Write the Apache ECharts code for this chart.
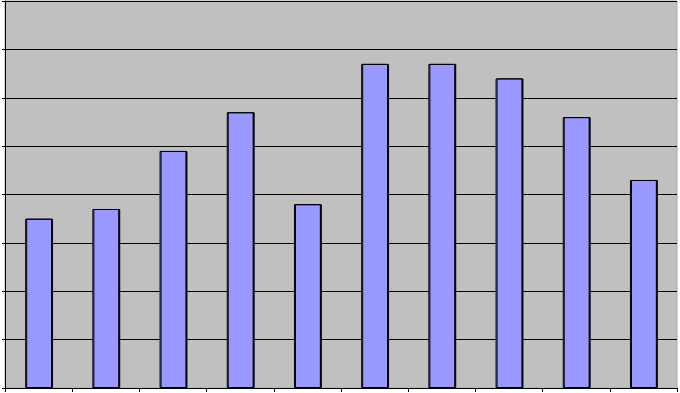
<!DOCTYPE html>
<html>
<head>
<meta charset="utf-8">
<script src="https://cdn.jsdelivr.net/npm/echarts@6/dist/echarts.min.js"></script>
<style>html,body{margin:0;padding:0;background:#fff;}#c{width:680px;height:393px;}</style>
</head>
<body>
<div id="c"></div>
<script>
const categories = ['1', '2', '3', '4', '5', '6', '7', '8', '9', '10'];
const values = [3.5, 3.7, 4.9, 5.7, 3.8, 6.7, 6.7, 6.4, 5.6, 4.3];
const yMin = 0, yMax = 8, yStep = 1;

const chart = echarts.init(document.getElementById('c'), null, {renderer: 'canvas'});
chart.setOption({
  animation: false,
  backgroundColor: '#ffffff',
  grid: {
    left: 5, right: 3, top: 1, bottom: 5,
    show: true, backgroundColor: '#c0c0c0', borderColor: '#a8a8a8', borderWidth: 1
  },
  xAxis: {
    type: 'category',
    data: categories,
    axisLine: {lineStyle: {color: '#000', width: 1}},
    axisTick: {show: true, length: 4, lineStyle: {color: '#000'}},
    axisLabel: {show: false},
    splitLine: {show: false}
  },
  yAxis: {
    type: 'value',
    min: yMin, max: yMax, interval: yStep,
    axisLine: {show: true, lineStyle: {color: '#000', width: 1}},
    axisTick: {show: true, length: 3, lineStyle: {color: '#000'}},
    axisLabel: {show: false},
    splitLine: {show: true, lineStyle: {color: '#000', width: 1}}
  },
  series: [{
    type: 'bar',
    data: values,
    barWidth: '40%',
    itemStyle: {
      color: '#9999ff',
      borderColor: '#000',
      borderWidth: 1,
      shadowColor: '#000',
      shadowOffsetX: 1,
      shadowOffsetY: 0,
      shadowBlur: 0
    }
  }]
});
</script>
</body>
</html>
